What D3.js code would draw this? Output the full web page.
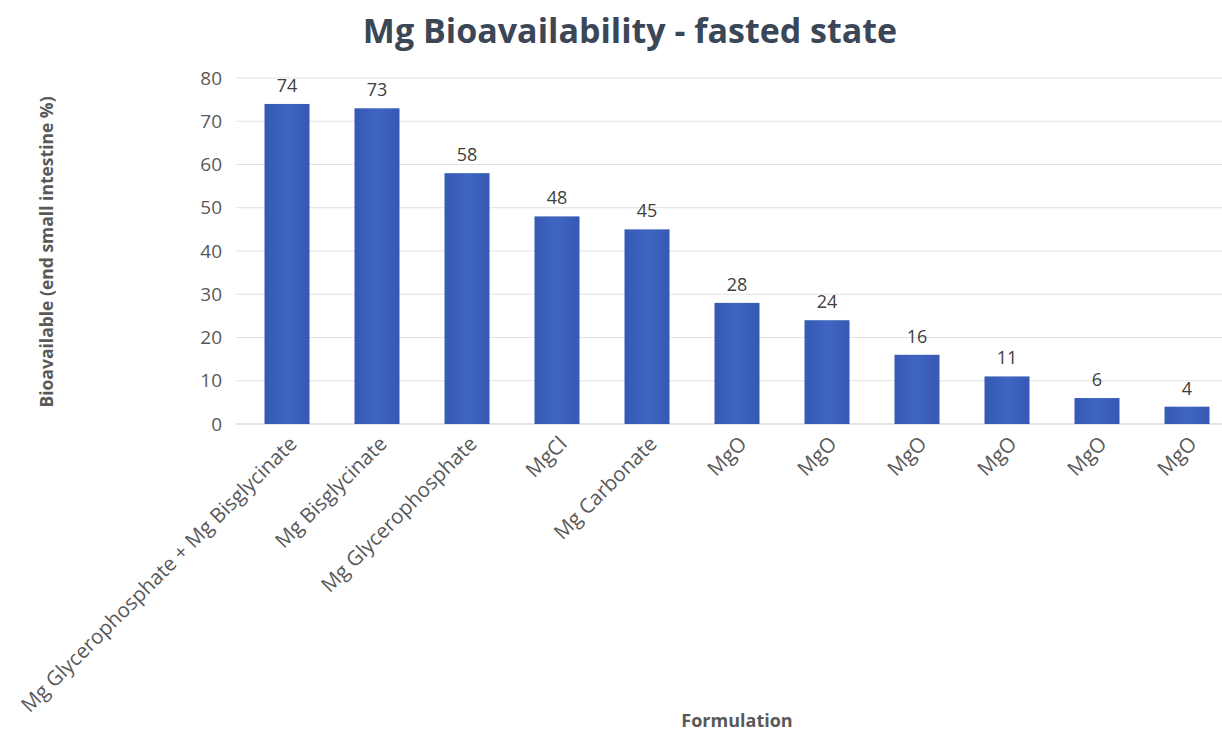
<!DOCTYPE html>
<html>
<head>
<meta charset="utf-8">
<script src="https://cdn.jsdelivr.net/npm/d3@7"></script>
<style>
  body { margin: 0; background: #fff; }
  text { font-family: "Open Sans", sans-serif; }
</style>
</head>
<body>
<svg id="chart"></svg>
<script>
// data
const formulations = [
  "Mg Glycerophosphate + Mg Bisglycinate",
  "Mg Bisglycinate",
  "Mg Glycerophosphate",
  "MgCl",
  "Mg Carbonate",
  "MgO", "MgO", "MgO", "MgO", "MgO", "MgO"
];
const bioavailable = [74, 73, 58, 48, 45, 28, 24, 16, 11, 6, 4];
const yTicks = [0, 10, 20, 30, 40, 50, 60, 70, 80];

const width = 1222, height = 731;
const svg = d3.select("#chart").attr("width", width).attr("height", height);

const data = formulations.map((f, i) => ({ id: i, name: f, value: bioavailable[i] }));

const x = d3.scaleBand()
  .domain(data.map(d => d.id))
  .range([242, 1232])
  .paddingInner(0.5)
  .paddingOuter(0.25);

const y = d3.scaleLinear()
  .domain([0, 80])
  .range([424, 78]);

// gridlines
svg.append("g")
  .selectAll("line")
  .data(yTicks)
  .join("line")
  .attr("x1", 236).attr("x2", width)
  .attr("y1", d => y(d)).attr("y2", d => y(d))
  .attr("stroke", d => d === 0 ? "#c8c8c8" : "#e2e2e2")
  .attr("stroke-width", 1);

// y tick labels
svg.append("g")
  .selectAll("text")
  .data(yTicks)
  .join("text")
  .attr("x", 222)
  .attr("y", d => y(d))
  .attr("dy", "0.35em")
  .attr("text-anchor", "end")
  .attr("font-size", 19)
  .attr("fill", "#595959")
  .text(d => d);

// bar gradient
const grad = svg.append("defs").append("linearGradient")
  .attr("id", "barGrad").attr("x1", 0).attr("x2", 1).attr("y1", 0).attr("y2", 0);
grad.append("stop").attr("offset", "0%").attr("stop-color", "#3659b3");
grad.append("stop").attr("offset", "50%").attr("stop-color", "#3f66c2");
grad.append("stop").attr("offset", "100%").attr("stop-color", "#3659b3");

svg.append("g")
  .selectAll("rect")
  .data(data)
  .join("rect")
  .attr("x", d => x(d.id))
  .attr("width", x.bandwidth())
  .attr("y", d => y(d.value))
  .attr("height", d => y(0) - y(d.value))
  .attr("fill", "url(#barGrad)");

// value labels
svg.append("g")
  .selectAll("text")
  .data(data)
  .join("text")
  .attr("x", d => x(d.id) + x.bandwidth() / 2)
  .attr("y", d => y(d.value) - 12)
  .attr("text-anchor", "middle")
  .attr("font-size", 18)
  .attr("fill", "#404040")
  .text(d => d.value);

// category labels, rotated
svg.append("g")
  .selectAll("text")
  .data(data)
  .join("text")
  .attr("transform", d => `translate(${x(d.id) + x.bandwidth() / 2 + 6},${y(0) + 16}) rotate(-45)`)
  .attr("text-anchor", "end")
  .attr("dy", "0.35em")
  .attr("font-size", 20.5)
  .attr("fill", "#595959")
  .text(d => d.name);

// title
svg.append("text")
  .attr("x", 630).attr("y", 43)
  .attr("text-anchor", "middle")
  .attr("font-size", 34)
  .attr("font-weight", "bold")
  .attr("fill", "#3b4656")
  .text("Mg Bioavailability - fasted state");

// axis titles
svg.append("text")
  .attr("transform", `translate(53,252) rotate(-90)`)
  .attr("text-anchor", "middle")
  .attr("font-size", 17.5)
  .attr("font-weight", "bold")
  .attr("fill", "#595959")
  .text("Bioavailable (end small intestine %)");

svg.append("text")
  .attr("x", 737).attr("y", 727)
  .attr("text-anchor", "middle")
  .attr("font-size", 18)
  .attr("font-weight", "bold")
  .attr("fill", "#595959")
  .text("Formulation");
</script>
</body>
</html>
